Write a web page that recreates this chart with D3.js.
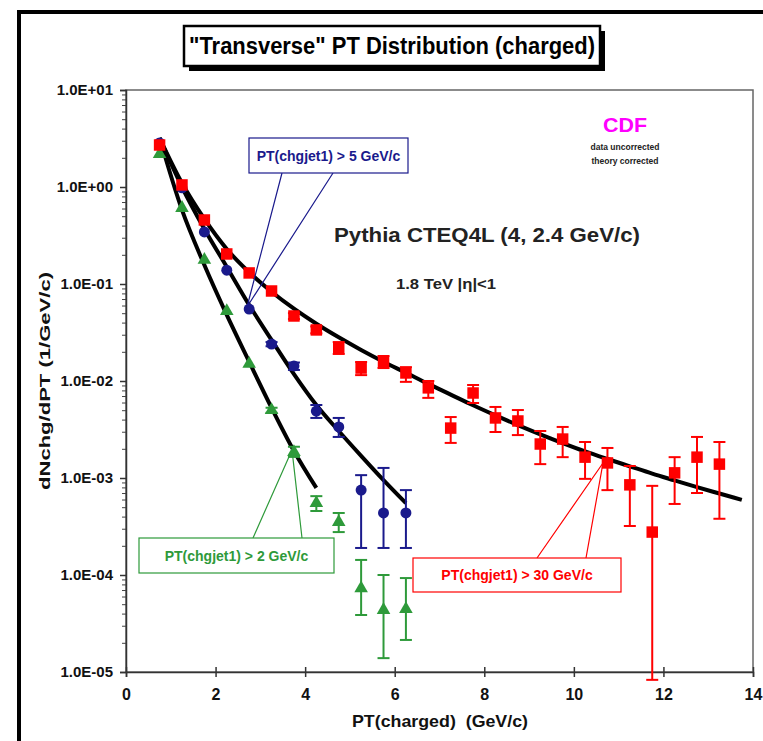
<!DOCTYPE html>
<html>
<head>
<meta charset="utf-8">
<script src="https://cdn.jsdelivr.net/npm/d3@7"></script>
<style>
  body { margin: 0; background: #fff; }
  svg text { font-family: "Liberation Sans", Arial, sans-serif; font-weight: bold; }
</style>
</head>
<body>
<div id="chart"></div>
<script>
// "Transverse" PT distribution, CDF data vs Pythia CTEQ4L

const ptBins = [0.75, 1.25, 1.75, 2.25, 2.75, 3.25, 3.75, 4.25, 4.75, 5.25, 5.75, 6.25,
  6.75, 7.25, 7.75, 8.25, 8.75, 9.25, 9.75, 10.25, 10.75, 11.25, 11.75, 12.25, 12.75, 13.25];

// PT(chgjet1) > 30 GeV/c  (red squares)
const jet30 = [2.71, 1.05, 0.457, 0.204, 0.130, 0.0847, 0.0468, 0.0336, 0.0219, 0.0136, 0.0157, 0.0121,
  0.0085, 0.00327, 0.00752, 0.00416, 0.00387, 0.00224, 0.00252, 0.00164, 0.00143, 0.00085, 0.000277, 0.00113, 0.00164, 0.00139];
const jet30Hi = [2.71, 1.05, 0.457, 0.204, 0.130, 0.0847, 0.050, 0.0365, 0.0252, 0.0157, 0.0181, 0.0139,
  0.0100, 0.00425, 0.0091, 0.0054, 0.00502, 0.00305, 0.00336, 0.00235, 0.00204, 0.00133, 0.00083, 0.00164, 0.00265, 0.00235];
const jet30Lo = [2.71, 1.05, 0.457, 0.204, 0.130, 0.0847, 0.0435, 0.031, 0.0190, 0.0115, 0.0136, 0.0098,
  0.0067, 0.00230, 0.00593, 0.00298, 0.00277, 0.00139, 0.00164, 0.00098, 0.00075, 0.00032, 0.0000083, 0.00054, 0.0007, 0.00038];

// PT(chgjet1) > 5 GeV/c  (blue circles)
const jet5 = [2.85, 0.98, 0.344, 0.139, 0.0552, 0.0240, 0.0143, 0.0049, 0.00336, 0.00075, 0.000436, 0.000436];
const jet5Hi = [2.85, 0.98, 0.344, 0.139, 0.0552, 0.0252, 0.0155, 0.00566, 0.00416, 0.00107, 0.00127, 0.00075];
const jet5Lo = [2.85, 0.98, 0.344, 0.139, 0.0552, 0.0228, 0.0130, 0.00416, 0.00265, 0.00019, 0.00019, 0.00019];

// PT(chgjet1) > 2 GeV/c  (green triangles)
const jet2 = [2.19, 0.608, 0.177, 0.0527, 0.0150, 0.00502, 0.00185, 0.00055, 0.000352, 0.000073, 0.0000436, 0.0000446];
const jet2Hi = [2.19, 0.608, 0.177, 0.0527, 0.0150, 0.0053, 0.0021, 0.00065, 0.000436, 0.000143, 0.000100, 0.000093];
const jet2Lo = [2.19, 0.608, 0.177, 0.0527, 0.0150, 0.0047, 0.00165, 0.000457, 0.000277, 0.0000387, 0.0000139, 0.0000214];

// Pythia CTEQ4L curves
const theoryPt = [0.75, 1.25, 1.75, 2.25, 2.75, 3.25, 3.75, 4.25, 4.75, 5.25, 5.75, 6.25,
  6.75, 7.25, 7.75, 8.25, 8.75, 9.25, 9.75, 10.25, 10.75, 11.25, 11.75, 12.25, 12.75, 13.25, 13.75];
const theory30 = [3.2, 1.10, 0.468, 0.229, 0.132, 0.0832, 0.0556, 0.0389, 0.0282, 0.0209, 0.0158, 0.01216,
  0.00933, 0.00724, 0.00562, 0.00442, 0.00351, 0.00282, 0.00229, 0.00188, 0.00157, 0.00132, 0.00111,
  0.000944, 0.000804, 0.000692, 0.000596];
const theory5 = [3.2, 1.0, 0.369, 0.150, 0.0608, 0.0265, 0.0118, 0.00566, 0.00305, 0.00169, 0.00095, 0.00055];
const theory2 = [3.2, 0.58, 0.157, 0.048, 0.0158, 0.0053, 0.0019, 0.00079];

const yTicks = [1e1, 1e0, 1e-1, 1e-2, 1e-3, 1e-4, 1e-5];
const yTickLabels = ["1.0E+01", "1.0E+00", "1.0E-01", "1.0E-02", "1.0E-03", "1.0E-04", "1.0E-05"];
const xTicks = [0, 2, 4, 6, 8, 10, 12, 14];

const RED = "#ff0000", BLUE = "#1a1a8c", GREEN = "#2e9a3a";

const W = 763, H = 741;
const svg = d3.select("#chart").append("svg")
  .attr("width", W).attr("height", H);

// outer slide frame
svg.append("rect")
  .attr("x", 19).attr("y", 12).attr("width", 800).attr("height", 800)
  .attr("fill", "none").attr("stroke", "#000").attr("stroke-width", 4);

// title box with shadow
const tb = {x: 184, y: 26, w: 416, h: 40};
svg.append("rect").attr("x", tb.x + 5).attr("y", tb.y + 5)
  .attr("width", tb.w).attr("height", tb.h).attr("fill", "#000");
svg.append("rect").attr("x", tb.x).attr("y", tb.y)
  .attr("width", tb.w).attr("height", tb.h)
  .attr("fill", "#fff").attr("stroke", "#000").attr("stroke-width", 2.5);
svg.append("text")
  .attr("x", tb.x + tb.w / 2).attr("y", tb.y + 28)
  .attr("text-anchor", "middle")
  .attr("textLength", 406).attr("lengthAdjust", "spacingAndGlyphs")
  .style("font-family", "'Liberation Sans Narrow', 'Arial Narrow', sans-serif")
  .style("font-size", "23px")
  .text("\"Transverse\" PT Distribution (charged)");

const x = d3.scaleLinear().domain([0, 14]).range([126, 753]);
const y = d3.scaleLog().domain([1e-5, 10]).range([672, 90]);

// plot frame
svg.append("rect")
  .attr("x", x(0)).attr("y", y(10))
  .attr("width", x(14) - x(0)).attr("height", y(1e-5) - y(10))
  .attr("fill", "none").attr("stroke", "#666").attr("stroke-width", 1.5);

// y axis: minor + major ticks
const minor = [];
yTicks.slice(1).forEach(d => { for (let k = 2; k <= 9; k++) minor.push(d * k); });
svg.append("g")
  .attr("transform", `translate(${x(0)},0)`)
  .call(d3.axisLeft(y).tickValues(minor).tickSize(4).tickFormat(""))
  .call(g => g.select(".domain").remove())
  .call(g => g.selectAll(".tick line").attr("stroke", "#444"));
const yAxis = svg.append("g")
  .attr("transform", `translate(${x(0)},0)`)
  .call(d3.axisLeft(y).tickValues(yTicks).tickSize(6).tickPadding(7)
    .tickFormat((d, i) => yTickLabels[i]));
yAxis.select(".domain").attr("stroke", "#333").attr("stroke-width", 1.5);
yAxis.selectAll(".tick line").attr("stroke", "#333").attr("stroke-width", 1.5);
yAxis.selectAll(".tick text")
  .style("font-size", "15px").attr("fill", "#111")
  .attr("font-family", "'Liberation Sans', Arial, sans-serif");

// x axis, crossing ticks
const xAxis = svg.append("g")
  .attr("transform", `translate(0,${y(1e-5)})`)
  .call(d3.axisBottom(x).tickValues(xTicks).tickSize(5).tickPadding(12));
xAxis.select(".domain").attr("stroke", "#333").attr("stroke-width", 1.5);
xAxis.selectAll(".tick line").attr("y1", -5).attr("y2", 5)
  .attr("stroke", "#333").attr("stroke-width", 1.5);
xAxis.selectAll(".tick text")
  .style("font-size", "16px").attr("fill", "#111")
  .attr("font-family", "'Liberation Sans', Arial, sans-serif");

// axis titles
svg.append("text")
  .attr("x", 440).attr("y", 727).attr("text-anchor", "middle")
  .attr("textLength", 176).attr("lengthAdjust", "spacingAndGlyphs")
  .style("font-size", "17px").attr("fill", "#111")
  .text("PT(charged)\u00a0\u00a0(GeV/c)");
svg.append("text")
  .attr("transform", `translate(50,${(y(10) + y(1e-5)) / 2}) rotate(-90)`)
  .attr("text-anchor", "middle")
  .attr("textLength", 218).attr("lengthAdjust", "spacingAndGlyphs")
  .style("font-size", "14px").attr("fill", "#111")
  .text("dNchg/dPT (1/GeV/c)");

// theory curves
const line = d3.line()
  .x(d => x(d[0])).y(d => y(d[1]))
  .curve(d3.curveMonotoneX);
[theory30, theory5, theory2].forEach(vals => {
  svg.append("path")
    .datum(vals.map((v, i) => [theoryPt[i], v]))
    .attr("d", line)
    .attr("fill", "none").attr("stroke", "#000").attr("stroke-width", 4);
});

// data with error bars
function drawSeries(vals, lo, hi, color, shape, size) {
  const g = svg.append("g");
  const pts = vals.map((v, i) => ({pt: ptBins[i], v: v, lo: lo[i], hi: hi[i]}));
  const eb = pts.filter(d => d.hi > d.lo);
  g.selectAll("line.bar").data(eb).join("line")
    .attr("x1", d => x(d.pt)).attr("x2", d => x(d.pt))
    .attr("y1", d => y(d.hi)).attr("y2", d => y(d.lo))
    .attr("stroke", color).attr("stroke-width", 2);
  ["hi", "lo"].forEach(k => {
    g.selectAll("line.cap" + k).data(eb).join("line")
      .attr("x1", d => x(d.pt) - 6).attr("x2", d => x(d.pt) + 6)
      .attr("y1", d => y(d[k])).attr("y2", d => y(d[k]))
      .attr("stroke", color).attr("stroke-width", 2);
  });
  const sym = d3.symbol().type(shape).size(size);
  g.selectAll("path").data(pts).join("path")
    .attr("transform", d => `translate(${x(d.pt)},${y(d.v)})`)
    .attr("d", sym).attr("fill", color);
}
drawSeries(jet2, jet2Lo, jet2Hi, GREEN, d3.symbolTriangle, 80);
drawSeries(jet5, jet5Lo, jet5Hi, BLUE, d3.symbolCircle, 95);
drawSeries(jet30, jet30Lo, jet30Hi, RED, d3.symbolSquare, 132);

// callout boxes
function callout(box, apex, feet, color, label) {
  svg.append("path")
    .attr("d", `M${feet[0][0]},${feet[0][1]}L${apex[0]},${apex[1]}L${feet[1][0]},${feet[1][1]}`)
    .attr("fill", "none").attr("stroke", color).attr("stroke-width", 1.2);
  svg.append("rect")
    .attr("x", box[0]).attr("y", box[1]).attr("width", box[2]).attr("height", box[3])
    .attr("fill", "#fff").attr("stroke", color).attr("stroke-width", 1.2);
  svg.append("text")
    .attr("x", box[0] + box[2] / 2).attr("y", box[1] + box[3] / 2 + 5)
    .attr("text-anchor", "middle").attr("fill", color)
    .style("font-size", "14px")
    .text(label);
}
callout([249, 138, 159, 35], [247, 307], [[282, 173], [333, 173]], BLUE, "PT(chgjet1) > 5 GeV/c");
callout([139, 538, 195, 35], [292, 450], [[253, 538], [302, 538]], GREEN, "PT(chgjet1) > 2 GeV/c");
callout([413, 558, 208, 34], [603, 463], [[537, 558], [586, 558]], RED, "PT(chgjet1) > 30 GeV/c");

// annotations
svg.append("text").attr("x", 487).attr("y", 242).attr("text-anchor", "middle")
  .attr("textLength", 306).attr("lengthAdjust", "spacingAndGlyphs")
  .style("font-size", "20px").attr("fill", "#222")
  .text("Pythia CTEQ4L (4, 2.4 GeV/c)");
svg.append("text").attr("x", 446).attr("y", 289).attr("text-anchor", "middle")
  .attr("textLength", 100).attr("lengthAdjust", "spacingAndGlyphs")
  .style("font-size", "15px").attr("fill", "#222")
  .text("1.8 TeV |η|<1");
svg.append("text").attr("x", 625).attr("y", 132).attr("text-anchor", "middle")
  .attr("textLength", 44).attr("lengthAdjust", "spacingAndGlyphs")
  .style("font-size", "20px").attr("fill", "#ff00ff")
  .text("CDF");
svg.append("text").attr("x", 625).attr("y", 150).attr("text-anchor", "middle")
  .style("font-size", "8.5px").attr("fill", "#222")
  .text("data uncorrected");
svg.append("text").attr("x", 625).attr("y", 164).attr("text-anchor", "middle")
  .style("font-size", "8.5px").attr("fill", "#222")
  .text("theory corrected");
</script>
</body>
</html>
